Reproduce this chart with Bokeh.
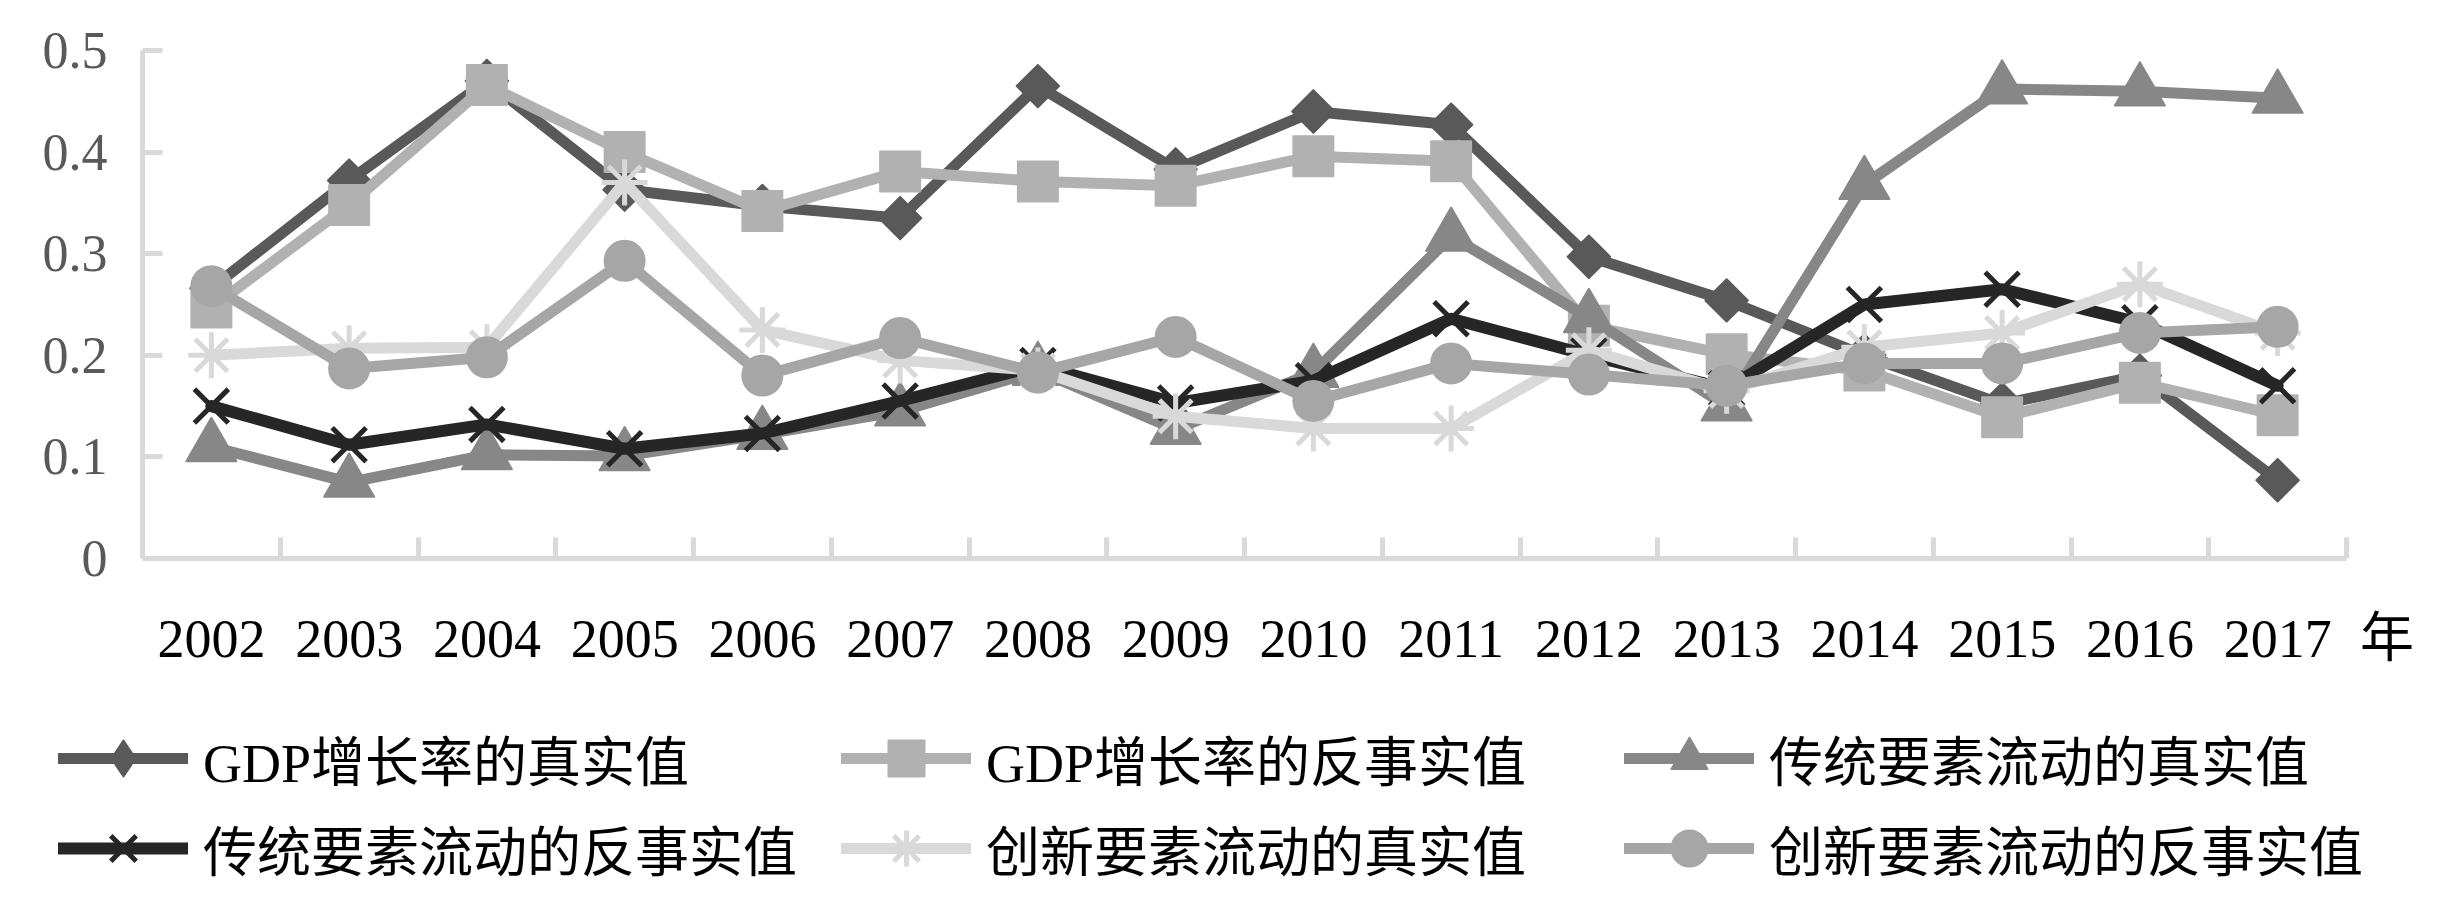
import numpy as np
from bokeh.plotting import figure
from bokeh.layouts import column
from bokeh.models import (Range1d, FixedTicker, Legend, LegendItem)
from bokeh.embed import file_html
from bokeh.resources import INLINE

years = list(range(2002, 2018))
gdp_true = [0.266, 0.372, 0.470, 0.363, 0.347, 0.335, 0.465, 0.383, 0.440, 0.427, 0.297, 0.254, 0.200, 0.152, 0.180, 0.077]
gdp_cf = [0.247, 0.348, 0.466, 0.400, 0.342, 0.381, 0.371, 0.367, 0.396, 0.391, 0.229, 0.201, 0.185, 0.139, 0.173, 0.141]
trad_true = [0.110, 0.075, 0.102, 0.101, 0.122, 0.145, 0.185, 0.127, 0.183, 0.317, 0.237, 0.150, 0.368, 0.462, 0.460, 0.453]
trad_cf = [0.150, 0.112, 0.132, 0.108, 0.123, 0.155, 0.190, 0.153, 0.175, 0.236, 0.200, 0.167, 0.250, 0.265, 0.232, 0.170]
innov_true = [0.200, 0.207, 0.208, 0.370, 0.225, 0.195, 0.185, 0.140, 0.128, 0.128, 0.205, 0.165, 0.208, 0.222, 0.270, 0.222]
innov_cf = [0.268, 0.187, 0.198, 0.293, 0.180, 0.217, 0.183, 0.218, 0.155, 0.192, 0.181, 0.170, 0.192, 0.192, 0.222, 0.228]

names = ["GDP增长率的真实值", "GDP增长率的反事实值", "传统要素流动的真实值",
         "传统要素流动的反事实值", "创新要素流动的真实值", "创新要素流动的反事实值"]
y_ticks = [0, 0.1, 0.2, 0.3, 0.4, 0.5]
y_tick_labels = ["0", "0.1", "0.2", "0.3", "0.4", "0.5"]
unit_label = "年"

SERIF = "'Liberation Serif'"
MIXED = "'Liberation Serif', 'Noto Sans CJK SC'"
AXIS_C = "#d9d9d9"

W = 2426
H_MAIN = 700
H_LEG = 186

x0, x1 = years[0] - 0.5, years[-1] + 0.5

p = figure(width=W, height=H_MAIN, output_backend="svg", toolbar_location=None,
           x_range=Range1d(x0, x1),
           y_range=Range1d(0, 0.5),
           min_border_left=142, min_border_right=80, min_border_top=50,
           min_border_bottom=H_MAIN - 558)
p.outline_line_color = None
p.grid.visible = False
p.background_fill_color = "white"
p.frame_align = False

xa = p.xaxis[0]
xa.ticker = FixedTicker(ticks=years + [x1], minor_ticks=[y + 0.5 for y in years])
overrides = {y: str(y) for y in years}
overrides[x1] = "\u3000\u2002" + unit_label
xa.major_label_overrides = overrides
xa.major_tick_line_color = None
xa.minor_tick_in = 21
xa.minor_tick_out = 0
xa.minor_tick_line_color = AXIS_C
xa.minor_tick_line_width = 5
xa.axis_line_color = AXIS_C
xa.axis_line_width = 5
xa.major_label_text_font = MIXED
xa.major_label_text_font_size = "54px"
xa.major_label_text_color = "#000000"
xa.major_label_standoff = 44

ya = p.yaxis[0]
ya.ticker = FixedTicker(ticks=y_ticks)
ya.major_label_overrides = {t: s for t, s in zip(y_ticks, y_tick_labels)}
ya.major_tick_in = 20
ya.major_tick_out = 0
ya.major_tick_line_color = AXIS_C
ya.major_tick_line_width = 5
ya.minor_tick_line_color = None
ya.axis_line_color = AXIS_C
ya.axis_line_width = 5
ya.major_label_text_font = SERIF
ya.major_label_text_font_size = "52px"
ya.major_label_text_color = "#595959"
ya.major_label_standoff = 35

series = [
    (gdp_true, "#595959", 11, dict(marker="square", angle=np.pi / 4, size=30, line_width=2), "diamond"),
    (gdp_cf, "#b1b1b1", 11, dict(marker="square", size=40, line_width=2), "square"),
    (trad_true, "#878787", 11, dict(marker="triangle", size=50, line_width=2), "triangle"),
    (trad_cf, "#262626", 12, dict(marker="x", size=48, line_width=5), "x"),
    (innov_true, "#d9d9d9", 11, dict(marker="asterisk", size=46, line_width=5), "asterisk"),
    (innov_cf, "#a6a6a6", 11, dict(marker="circle", size=40, line_width=2), "circle"),
]

for vals, col, lw, mk, _ in series:
    p.line(years, vals, line_color=col, line_width=lw, line_join="round", line_cap="round")
    p.scatter(years, vals, fill_color=col, line_color=col, line_join="round", **mk)

# legend panel (separate figure below the chart, its frame fills the canvas)
q = figure(width=W, height=H_LEG, output_backend="svg", toolbar_location=None,
           x_range=Range1d(0, 1), y_range=Range1d(0, 1),
           x_axis_location=None, y_axis_location=None,
           min_border_left=0, min_border_right=0, min_border_top=0, min_border_bottom=0)
q.outline_line_color = None
q.grid.visible = False
q.frame_align = False

items = []
for (vals, col, lw, mk, lmk), name in zip(series, names):
    r_line = q.line([-5, -4], [-5, -5], line_color=col, line_width=lw, line_cap="round")
    r_pt = q.scatter([-5], [-5], marker=lmk, size=mk["size"], fill_color=col, line_color=col,
                     line_width=mk["line_width"], line_join="round")
    items.append(LegendItem(label=name, renderers=[r_line, r_pt]))

legend = Legend(items=items, orientation="horizontal", ncols=3,
                location=(58, -7),
                glyph_width=130, glyph_height=90, label_height=90, label_width=638,
                label_standoff=15, spacing=0, padding=0, margin=0,
                border_line_color=None, background_fill_alpha=0,
                label_text_font=MIXED, label_text_font_size="54px",
                label_text_color="#000000")
q.add_layout(legend, "center")

layout = column(p, q, spacing=0)
open("out.html", "w").write(file_html(layout, INLINE))
